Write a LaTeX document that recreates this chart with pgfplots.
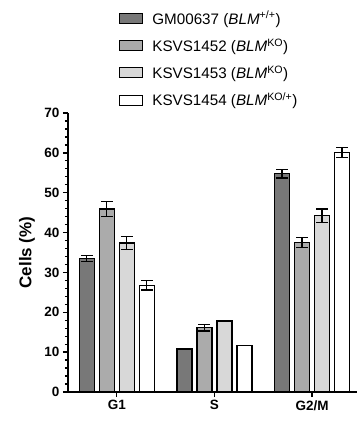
\documentclass[border=0pt]{standalone}
\usepackage{fontspec}
\setmainfont{Liberation Sans}
\usepackage{pgfplots}
\pgfplotsset{compat=1.18}
\definecolor{c1}{HTML}{787878}
\definecolor{c2}{HTML}{ABABAB}
\definecolor{c3}{HTML}{D8D8D8}
\definecolor{c4}{HTML}{FFFFFF}
\begin{document}
\begin{tikzpicture}
\path[use as bounding box] (-68pt,-32pt) rectangle (294pt,392pt);
\begin{axis}[
  name=ax, at={(0,0)}, anchor=south west,
  scale only axis, width=289pt, height=279pt,
  ybar=5pt, bar width=15pt,
  xmin=-0.5, xmax=2.46, ymin=0, ymax=70,
  axis lines*=left,
  axis line style={line width=1.3pt},
  xtick={0,1,2}, xticklabels={G1,S,G2/M},
  ytick={0,10,...,70}, minor y tick num=4,
  tick align=outside, major tick length=5pt, minor tick length=3pt,
  every tick/.style={line width=1.3pt, black},
  /pgf/number format/assume math mode=true,
  ticklabel style={font=\bfseries\fontsize{13.5}{13.5}\selectfont},
  ylabel={Cells (\%)},
  ylabel style={font=\bfseries\fontsize{17}{17}\selectfont, at={(axis description cs:-0.142,0.5)}, anchor=center},
  legend cell align=left,
  legend style={draw=none, fill=none, at={(axis description cs:0.1765,1.373)}, anchor=north west,
    font=\fontsize{15.2}{15.2}\selectfont, row sep=9pt, column sep=7pt, inner sep=0pt},
  legend image code/.code={\draw[#1, line width=1.2pt] (0pt,-5pt) rectangle (23pt,5pt);},
  error bars/y dir=both, error bars/y explicit,
  error bars/error bar style={line width=1.3pt, black},
  error bars/error mark options={rotate=90, mark size=6pt, line width=1.3pt, black},
]
\addplot[fill=c1, draw=black, line width=1.3pt] coordinates {(0,33.5) +- (0,0.7) (1,10.8) +- (0,0) (2,54.8) +- (0,1.1)};
\addlegendentry{GM00637 (\textit{BLM}\textsuperscript{+/+})}
\addplot[fill=c2, draw=black, line width=1.3pt] coordinates {(0,45.9) +- (0,1.9) (1,16.1) +- (0,0.8) (2,37.5) +- (0,1.3)};
\addlegendentry{KSVS1452 (\textit{BLM}\textsuperscript{KO})}
\addplot[fill=c3, draw=black, line width=1.3pt] coordinates {(0,37.4) +- (0,1.7) (1,17.8) +- (0,0) (2,44.2) +- (0,1.7)};
\addlegendentry{KSVS1453 (\textit{BLM}\textsuperscript{KO})}
\addplot[fill=c4, draw=black, line width=1.3pt] coordinates {(0,26.8) +- (0,1.2) (1,11.6) +- (0,0) (2,60.1) +- (0,1.3)};
\addlegendentry{KSVS1454 (\textit{BLM}\textsuperscript{KO/+})}
\end{axis}
\end{tikzpicture}
\end{document}
